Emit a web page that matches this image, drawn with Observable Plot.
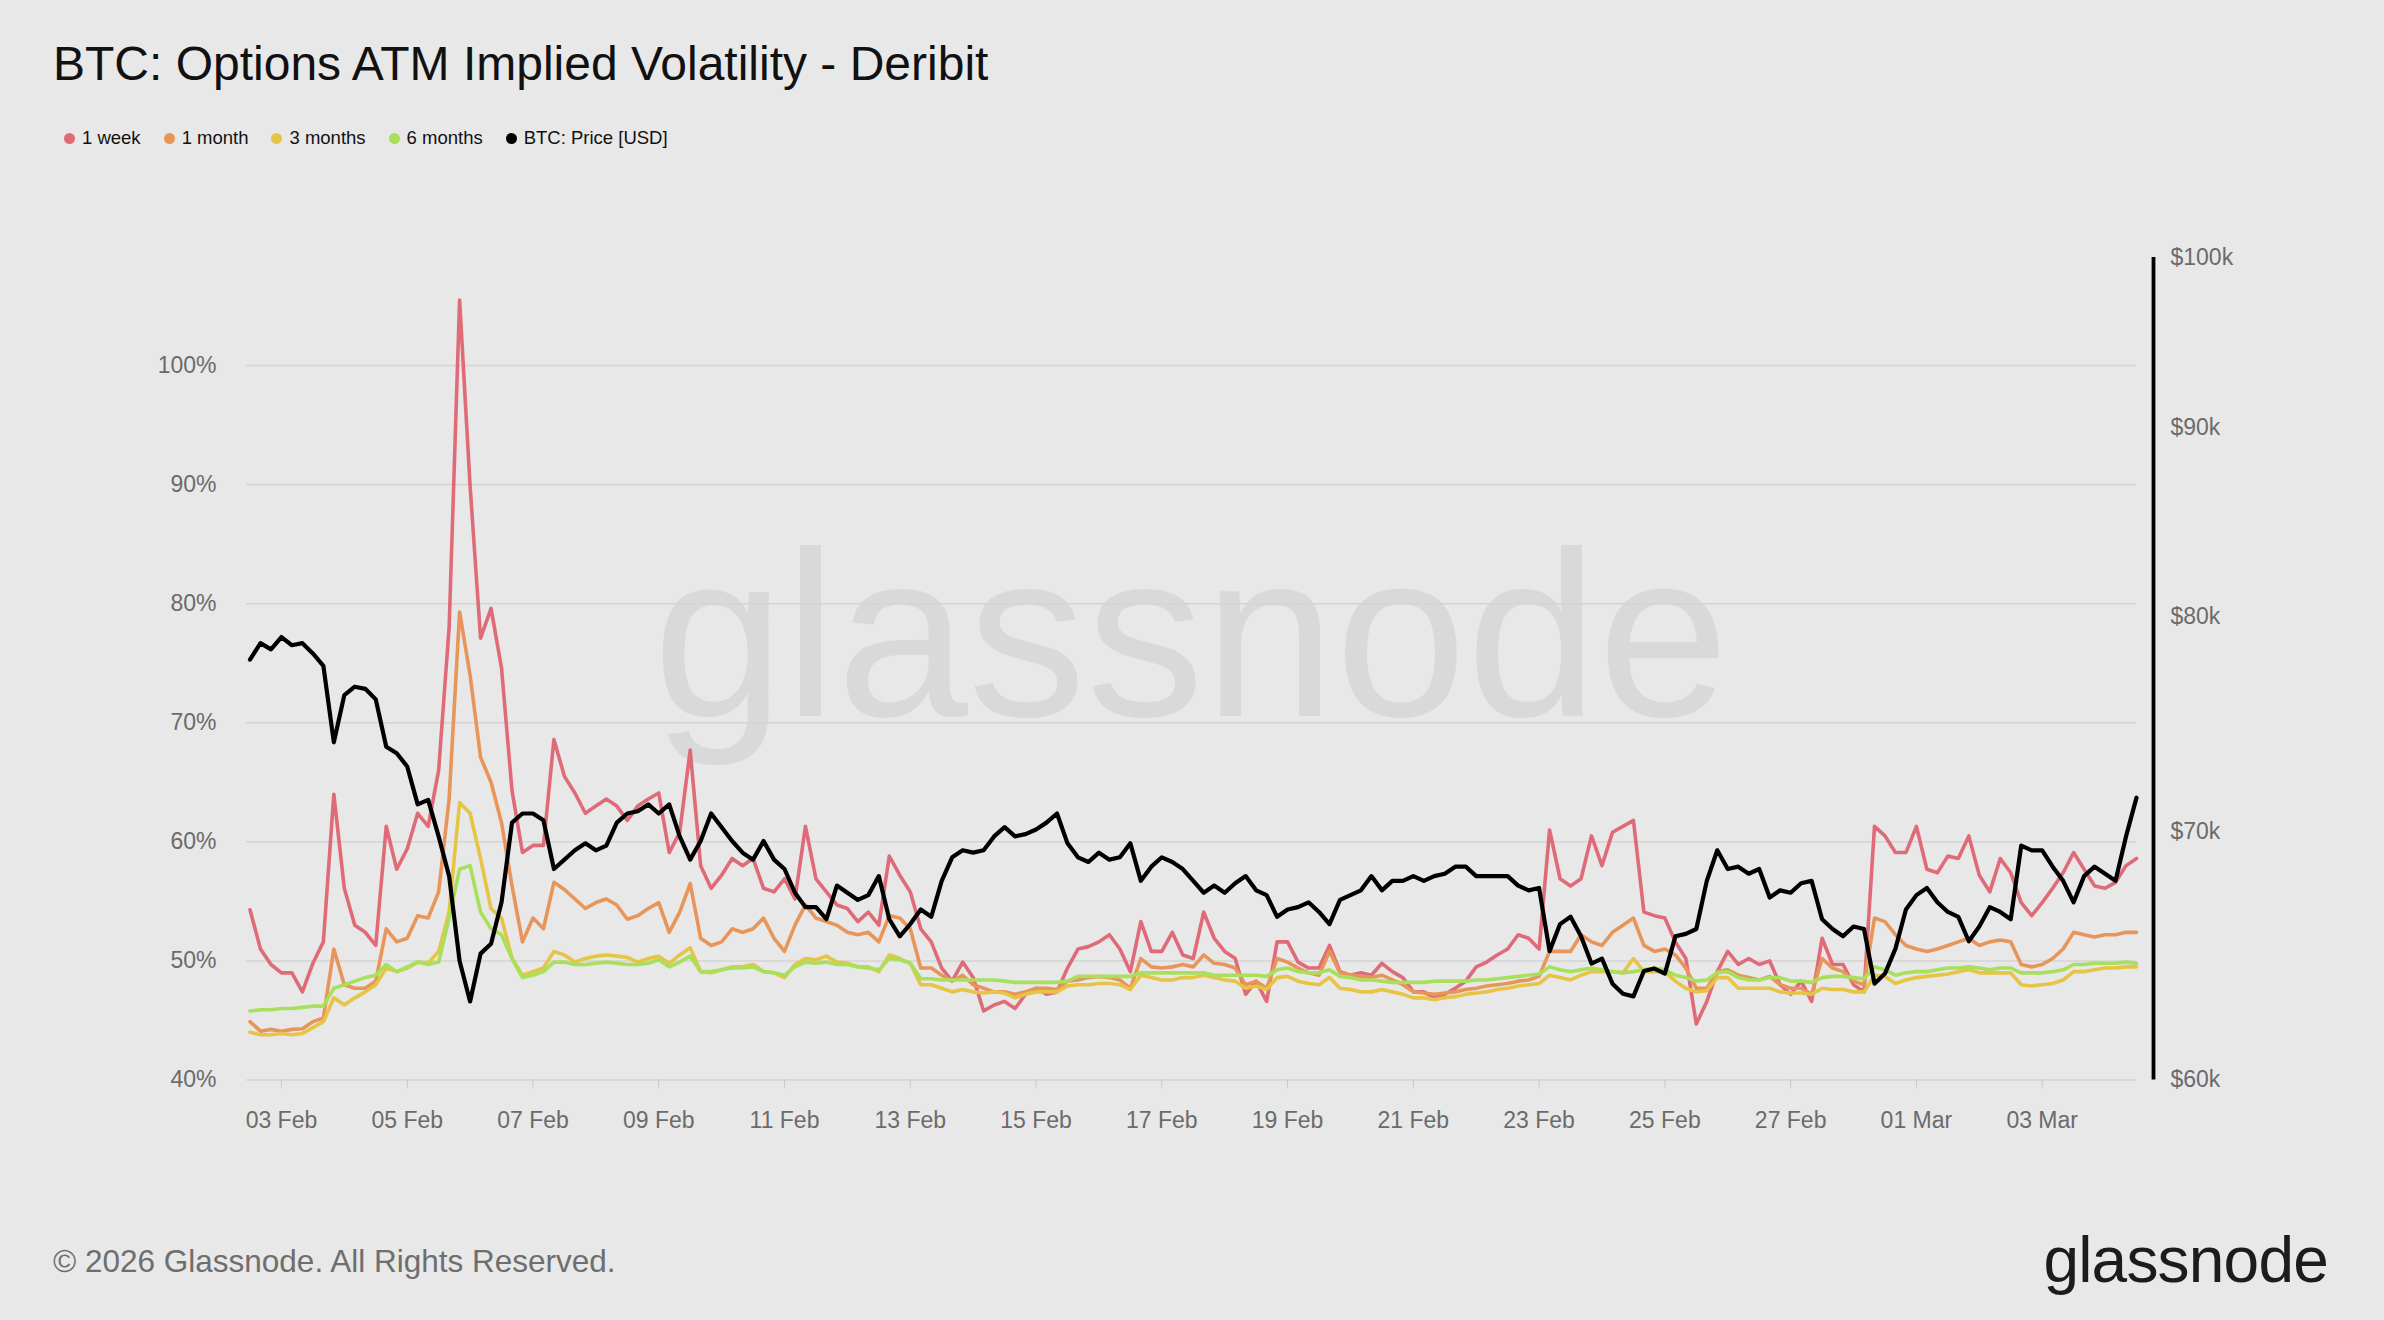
<!DOCTYPE html>
<html><head><meta charset="utf-8">
<script src="https://cdn.jsdelivr.net/npm/d3@7"></script>
<script src="https://cdn.jsdelivr.net/npm/@observablehq/plot@0.6"></script>
<style>
html,body{margin:0;padding:0;background:#e8e8e8;}
body{width:2384px;height:1320px;position:relative;overflow:hidden;font-family:"Liberation Sans",Arial,sans-serif;}
#title{position:absolute;left:53px;top:40px;font-size:48px;line-height:1;color:#111;white-space:nowrap;}
#legend{position:absolute;left:64px;top:127px;display:flex;align-items:center;font-size:18.5px;line-height:22px;color:#111;}
.item{display:flex;align-items:center;margin-right:23px;}
.dot{width:11px;height:11px;border-radius:50%;margin-right:7px;}
#wm{position:absolute;left:246px;width:1890px;top:516px;text-align:center;font-size:236px;line-height:1;color:#d9d9d9;}
#chart{position:absolute;left:0;top:200px;width:2384px;height:1000px;}
#chart svg{position:absolute;left:0;top:0;}
#footer{position:absolute;left:53px;top:1246px;font-size:31.5px;line-height:1;color:#6e6e6e;white-space:nowrap;}
#logo{position:absolute;right:56px;top:1228px;font-size:64px;line-height:1;color:#1c1c1c;letter-spacing:-0.8px;}
</style></head>
<body>
<div id="title">BTC: Options ATM Implied Volatility - Deribit</div>
<div id="legend"></div>
<div id="wm">glassnode</div>
<div id="chart"></div>
<div id="footer">© 2026 Glassnode. All Rights Reserved.</div>
<div id="logo">glassnode</div>
<script>
// ---- data (4-hour samples starting 2026-02-02 12:00 UTC) ----
const seriesNames = ["1 week", "1 month", "3 months", "6 months"];
const seriesColors = ["#e06b78", "#e8955a", "#e6c446", "#a8e05c"];
const priceName = "BTC: Price [USD]";
const priceColor = "#000000";

const iv1w = [54.3,51,49.7,49,49,47.4,49.8,51.6,64,56.1,
53,52.4,51.3,61.3,57.7,59.4,62.4,61.3,66,78,
105.5,89.9,77.1,79.6,74.6,64.3,59.1,59.7,59.7,68.6,
65.5,64.1,62.4,63,63.6,63,61.8,63,63.6,64.1,
59.1,60.8,67.7,58,56.1,57.2,58.6,58,58.6,56.1,
55.8,56.9,55.2,61.3,56.9,55.8,54.7,54.4,53.3,54.1,
53,58.8,57.2,55.8,52.7,51.6,49.4,48.3,49.9,48.6,
45.8,46.3,46.6,46,47.2,47.7,47.2,47.4,49.4,51,
51.2,51.6,52.2,51,49.1,53.3,50.8,50.8,52.4,50.5,
50.2,54.1,51.9,50.8,50.2,47.2,48.3,46.6,51.6,51.6,
49.9,49.4,49.4,51.3,49.1,48.8,49,48.8,49.8,49.1,
48.6,47.4,47.4,46.9,47.2,47.7,48.3,49.5,49.9,50.5,
51,52.2,51.9,51,61,56.9,56.3,56.9,60.5,58,
60.8,61.3,61.8,54.1,53.8,53.6,51.6,50.2,44.7,46.6,
49.1,50.8,49.7,50.2,49.7,50,48,47.2,48.3,46.6,
51.9,49.7,49.7,48,47.4,61.3,60.5,59.1,59.1,61.3,
57.7,57.4,58.8,58.6,60.5,57.2,55.8,58.6,57.4,54.9,
53.8,54.9,56.1,57.4,59.1,57.7,56.3,56.1,56.6,58,
58.6];

const iv1m = [44.9,44.1,44.25,44.1,44.25,44.3,44.9,45.2,51,48,
47.7,47.7,48.3,52.7,51.6,51.9,53.8,53.6,55.8,63.6,
79.3,74,67.1,65,61.6,56.3,51.6,53.6,52.7,56.6,
56,55.2,54.4,54.9,55.2,54.7,53.5,53.8,54.4,54.9,
52.4,54.1,56.5,51.9,51.3,51.6,52.7,52.4,52.7,53.6,
51.9,50.8,53,54.7,53.6,53.3,53,52.4,52.2,52.4,
51.6,53.8,53.6,52.7,49.4,49.4,48.8,48.3,48.8,48,
47.7,47.4,47.4,47.2,47.4,47.7,47.7,47.6,48.3,48.4,
48.6,48.7,48.6,48.4,47.7,50.2,49.5,49.4,49.5,49.7,
49.5,50.5,49.8,49.7,49.4,48,48.3,47.7,50.2,49.9,
49.4,49,48.8,50.8,49,48.8,48.7,48.6,48.8,48.4,
48,47.4,47.3,47.2,47.3,47.4,47.6,47.7,47.9,48,
48.1,48.3,48.4,48.7,50.8,50.8,50.8,52.2,51.6,51.3,
52.4,53,53.6,51.3,50.8,51,50.5,49.4,47.7,47.7,
49.1,49.25,48.8,48.6,48.4,48.7,48,47.7,47.7,47.2,
50.2,49.4,49.1,48.3,48,53.6,53.3,52.2,51.3,51,
50.8,51,51.3,51.6,51.9,51.3,51.6,51.75,51.6,49.7,
49.5,49.7,50.2,51,52.4,52.2,52,52.2,52.2,52.4,
52.4];

const iv3m = [44,43.8,43.8,43.9,43.8,43.9,44.4,44.9,46.9,46.3,
46.9,47.4,48,49.4,49.1,49.4,49.9,49.8,50.8,54.1,
63.3,62.4,58.6,54.4,53.6,50.2,48.8,49.1,49.4,50.8,
50.5,49.9,50.2,50.4,50.5,50.4,50.3,49.9,50.2,50.4,
49.8,50.5,51.1,49.1,49,49.25,49.5,49.5,49.7,49.1,
49,48.6,49.7,50.2,50.1,50.4,49.9,49.8,49.5,49.5,
49.1,50.5,50.2,49.8,48,48,47.7,47.4,47.6,47.4,
47.3,47.4,47.3,46.9,47.2,47.4,47.4,47.4,47.9,48,
48,48.1,48.1,48,47.6,48.8,48.6,48.4,48.4,48.6,
48.6,48.8,48.6,48.4,48.3,47.7,47.9,47.6,48.6,48.7,
48.3,48.1,48,48.6,47.7,47.6,47.4,47.4,47.6,47.4,
47.2,46.9,46.9,46.75,46.9,47,47.2,47.3,47.4,47.6,
47.7,47.9,48,48.1,48.8,48.6,48.4,48.8,49.1,49.1,
49.1,49,50.2,49.1,49.1,49.1,48.3,47.7,47.4,47.5,
48.6,48.6,47.7,47.7,47.7,47.7,47.4,47.3,47.3,47.2,
47.7,47.6,47.6,47.4,47.4,48.8,48.7,48.1,48.4,48.6,
48.7,48.8,48.9,49.1,49.25,49,49,49,49,48,
47.9,48,48.1,48.4,49.1,49.1,49.25,49.4,49.4,49.5,
49.5];

const iv6m = [45.8,45.9,45.9,46,46,46.1,46.2,46.2,47.7,48,
48.3,48.6,48.8,49.7,49.1,49.5,49.9,49.7,49.9,53.6,
57.7,58,54.1,52.7,52.2,50.2,48.6,48.8,49.1,49.9,
49.9,49.7,49.7,49.8,49.9,49.8,49.7,49.7,49.8,50.1,
49.5,49.9,50.4,49.1,49.1,49.25,49.4,49.4,49.5,49.1,
49,48.8,49.5,49.9,49.8,49.9,49.7,49.7,49.5,49.4,
49.25,50.2,50.1,49.8,48.5,48.5,48.4,48.4,48.4,48.4,
48.4,48.4,48.3,48.2,48.2,48.2,48.2,48.2,48.3,48.7,
48.7,48.7,48.7,48.7,48.7,49,49,49,49,49,
49,49,48.8,48.8,48.8,48.8,48.8,48.7,49.25,49.4,
49.1,49,49,49.25,48.7,48.6,48.4,48.4,48.3,48.2,
48.2,48.2,48.2,48.3,48.3,48.3,48.3,48.4,48.4,48.5,
48.6,48.7,48.8,48.9,49.5,49.25,49.1,49.25,49.4,49.25,
49.1,49,49.1,49.25,49.4,49.25,48.8,48.6,48.3,48.4,
49,49.1,48.6,48.4,48.4,48.6,48.6,48.3,48.3,48.2,
48.6,48.7,48.7,48.6,48.5,49.5,49.25,48.8,49,49.1,
49.1,49.25,49.4,49.4,49.5,49.4,49.25,49.4,49.4,49,
49,49,49.1,49.25,49.7,49.7,49.8,49.8,49.8,49.9,
49.8];

// BTC price, thousands of USD
const priceK = [77.9,78.7,78.4,79,78.6,78.7,78.2,77.6,74,76.2,
76.6,76.5,76,73.8,73.5,72.9,71.2,71.4,69.8,68.1,
64.6,63,64.9,65.3,67,70.4,70.8,70.8,70.5,68.4,
68.8,69.2,69.5,69.2,69.4,70.4,70.8,70.9,71.2,70.8,
71.2,69.8,68.8,69.6,70.8,70.2,69.6,69.1,68.8,69.6,
68.8,68.4,67.4,66.8,66.8,66.3,67.7,67.4,67.1,67.3,
68.1,66.3,65.6,66.1,66.7,66.4,67.9,68.9,69.2,69.1,
69.2,69.8,70.2,69.8,69.9,70.1,70.4,70.8,69.5,68.9,
68.7,69.1,68.8,68.9,69.5,67.9,68.5,68.9,68.7,68.4,
67.9,67.4,67.7,67.4,67.8,68.1,67.5,67.3,66.4,66.7,
66.8,67,66.6,66.1,67.1,67.3,67.5,68.1,67.5,67.9,
67.9,68.1,67.9,68.1,68.2,68.5,68.5,68.1,68.1,68.1,
68.1,67.7,67.5,67.6,65,66.1,66.4,65.6,64.5,64.7,
63.7,63.3,63.2,64.2,64.3,64.1,65.6,65.7,65.9,67.9,
69.2,68.4,68.5,68.2,68.4,67.2,67.5,67.4,67.8,67.9,
66.3,65.9,65.6,66,65.9,63.7,64.1,65.1,66.7,67.3,
67.6,67,66.6,66.4,65.4,66,66.8,66.6,66.3,69.4,
69.2,69.2,68.5,67.9,67,68.1,68.5,68.2,67.9,69.8,
71.5];

const pctTicks = [40, 50, 60, 70, 80, 90, 100];
const priceTicks = [60, 70, 80, 90, 100];
const dateTicks = ["2026-02-03","2026-02-05","2026-02-07","2026-02-09","2026-02-11","2026-02-13","2026-02-15",
  "2026-02-17","2026-02-19","2026-02-21","2026-02-23","2026-02-25","2026-02-27","2026-03-01","2026-03-03"];

// ---- build ----
const startMs = Date.UTC(2026, 1, 2, 12);
const stepMs = 4 * 3600e3;
const times = iv1w.map((_, i) => new Date(startMs + i * stepMs));
const ivSeries = [iv1w, iv1m, iv3m, iv6m];
const ivData = ivSeries.flatMap((vals, s) => vals.map((v, i) => ({t: times[i], v, name: seriesNames[s]})));
const priceData = priceK.map((p, i) => ({t: times[i], p}));
const tickDates = dateTicks.map(s => new Date(s + "T00:00:00Z"));

// legend
const legend = document.getElementById("legend");
[...seriesNames, priceName].forEach((n, i) => {
  const it = document.createElement("div"); it.className = "item";
  const d = document.createElement("span"); d.className = "dot";
  d.style.background = i < seriesNames.length ? seriesColors[i] : priceColor;
  const t = document.createElement("span"); t.textContent = n;
  it.append(d, t); legend.append(it);
});

const W = 2384, H = 1000;
const common = {
  width: W, height: H, marginTop: 57, marginBottom: 120.5, marginLeft: 246, marginRight: 248,
  style: {background: "transparent", fontFamily: "'Liberation Sans', Arial, sans-serif", fontSize: "23px", color: "#6b6b6b"}
};
const xDomain = [new Date(Date.UTC(2026, 1, 2, 10, 40)), new Date(Date.UTC(2026, 2, 4, 12))];

const p1 = Plot.plot({
  ...common,
  x: {type: "utc", domain: xDomain},
  y: {domain: [40, 109.07]},
  color: {domain: seriesNames, range: seriesColors},
  marks: [
    Plot.gridY(pctTicks, {stroke: "#d4d4d4", strokeOpacity: 1, strokeWidth: 1.5}),
    Plot.axisY(pctTicks, {anchor: "left", tickSize: 0, tickPadding: 30, tickFormat: d => d + "%", label: null, fill: "#6b6b6b"}),
    Plot.axisX(tickDates, {anchor: "bottom", tickSize: 9, tickPadding: 23, tickFormat: d3.utcFormat("%d %b"), stroke: "#c9c9c9", fill: "#6b6b6b", label: null}),
    Plot.lineY(ivData, {x: "t", y: "v", z: "name", stroke: "name", strokeWidth: 3.6, strokeLinejoin: "round"})
  ]
});

const p2 = Plot.plot({
  ...common,
  x: {type: "utc", domain: xDomain, axis: null},
  y: {type: "log", domain: [60, 100]},
  marks: [
    Plot.ruleX([times[times.length - 1]], {dx: 17, stroke: "#000", strokeWidth: 3.8}),
    Plot.axisY(priceTicks, {anchor: "right", tickSize: 0, tickPadding: 34, tickFormat: d => `$${d}k`, label: null, fill: "#6b6b6b"}),
    Plot.lineY(priceData, {x: "t", y: "p", stroke: priceColor, strokeWidth: 4.2, strokeLinejoin: "round"})
  ]
});

document.getElementById("chart").append(p1, p2);
</script>
</body></html>
